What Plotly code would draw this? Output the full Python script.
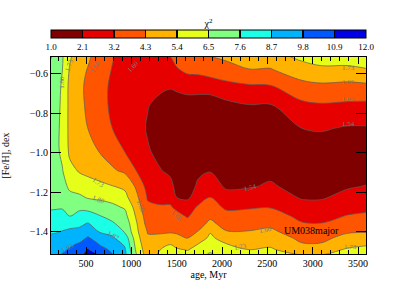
import numpy as np
import plotly.graph_objects as go

# ---------------- data ----------------
ages = [100, 170, 240, 320, 430, 520, 650, 790, 930, 1060, 1180, 1320,
        1430, 1500, 1620, 1740, 1870, 2050, 2300, 2530, 2880, 3100, 3380, 3600]
feh = [-1.52, -1.49, -1.46, -1.43, -1.40, -1.36, -1.32, -1.275, -1.225,
       -1.17, -1.09, -0.99, -0.875, -0.76, -0.66, -0.58, -0.50]

# chi^2 values, one list per age column (from low [Fe/H] to high [Fe/H])
chi2_by_age = [
    [9.5, 9.3, 9.1, 8.85, 8.6, 8.2, 7.8, 7.5, 7.2, 7.0, 6.9, 6.8, 6.8, 6.9, 7.0, 7.3, 7.9],
    [9.7, 9.5, 9.2, 8.9, 8.65, 8.3, 7.9, 7.5, 7.2, 7.0, 6.8, 6.7, 6.7, 6.75, 6.8, 7.0, 7.2],
    [9.9, 9.65, 9.35, 9.05, 8.75, 8.4, 7.95, 7.5, 7.1, 6.9, 6.55, 6.3, 6.3, 6.35, 6.4, 6.5, 6.6],
    [10.1, 9.9, 9.6, 9.3, 8.9, 8.4, 7.6, 7.2, 6.8, 6.3, 5.7, 5.2, 5.1, 5.1, 5.1, 5.3, 5.6],
    [10.7, 10.4, 9.9, 9.4, 9.0, 8.5, 7.9, 7.4, 6.7, 6.0, 5.3, 4.9, 4.7, 4.6, 4.5, 4.6, 4.8],
    [11.3, 11.0, 10.6, 9.9, 9.4, 8.8, 8.0, 7.3, 6.4, 5.9, 5.1, 4.6, 4.3, 4.1, 4.1, 4.25, 4.5],
    [11.0, 10.2, 9.7, 9.3, 8.65, 8.2, 7.65, 7.0, 6.3, 5.6, 5.0, 4.25, 3.8, 3.6, 3.6, 3.7, 3.9],
    [9.9, 9.6, 9.2, 8.8, 8.5, 7.75, 7.3, 6.7, 6.2, 5.45, 4.45, 3.8, 3.2, 3.0, 3.0, 3.15, 3.3],
    [9.0, 8.8, 8.55, 8.2, 7.5, 7.2, 6.8, 6.4, 5.7, 5.2, 4.1, 3.15, 2.85, 2.7, 2.7, 2.75, 2.8],
    [6.5, 6.2, 6.0, 5.8, 5.6, 5.45, 5.2, 4.9, 4.5, 4.1, 3.15, 2.75, 2.5, 2.4, 2.4, 2.45, 2.5],
    [4.9, 4.7, 4.55, 4.4, 4.25, 3.9, 3.7, 3.4, 3.1, 2.8, 2.5, 2.2, 2.0, 2.15, 2.3, 2.4, 2.5],
    [5.6, 5.4, 5.0, 4.5, 4.2, 3.9, 3.6, 3.3, 2.9, 2.5, 2.15, 1.8, 1.6, 1.8, 2.3, 2.6, 2.9],
    [6.0, 5.7, 5.35, 4.8, 4.2, 3.9, 3.6, 3.3, 2.9, 2.4, 1.9, 1.5, 1.4, 1.6, 2.2, 2.6, 3.3],
    [5.9, 5.5, 5.1, 4.5, 4.2, 3.9, 3.5, 3.0, 2.1, 1.8, 1.4, 1.2, 1.2, 1.4, 2.4, 3.1, 3.6],
    [5.7, 5.35, 5.0, 4.25, 4.0, 3.6, 3.1, 2.7, 1.9, 1.6, 1.3, 1.1, 1.1, 1.5, 2.6, 3.4, 4.0],
    [6.0, 5.7, 5.4, 5.0, 4.35, 4.0, 3.7, 3.35, 2.7, 2.3, 1.9, 1.4, 1.2, 1.6, 2.5, 3.5, 4.35],
    [6.8, 6.2, 5.9, 5.55, 5.35, 4.5, 4.15, 3.7, 3.2, 2.6, 2.05, 1.6, 1.3, 1.5, 2.6, 3.7, 4.4],
    [5.8, 5.6, 5.4, 5.0, 4.35, 4.0, 3.6, 3.0, 2.5, 1.95, 1.6, 1.3, 1.2, 1.8, 2.9, 3.9, 4.6],
    [5.6, 5.4, 5.0, 4.7, 4.35, 4.0, 3.6, 3.1, 2.7, 2.0, 1.6, 1.3, 1.3, 2.05, 3.1, 4.25, 5.0],
    [5.8, 5.5, 5.25, 4.9, 4.5, 4.1, 3.75, 3.15, 2.7, 2.25, 1.8, 1.4, 1.4, 2.0, 3.15, 4.2, 5.1],
    [5.45, 4.95, 4.35, 4.05, 3.8, 3.3, 2.9, 2.5, 2.0, 1.7, 1.4, 1.4, 2.1, 2.95, 3.95, 4.95, 5.75],
    [5.45, 5.0, 4.35, 4.05, 3.75, 3.25, 2.85, 2.45, 2.0, 1.7, 1.4, 1.5, 2.2, 3.08, 4.1, 5.25, 5.8],
    [5.8, 5.5, 5.1, 4.6, 4.2, 3.8, 3.25, 2.8, 2.4, 2.0, 1.6, 1.4, 2.0, 3.0, 4.0, 5.2, 5.9],
    [5.9, 5.6, 5.3, 4.75, 4.25, 3.85, 3.35, 3.0, 2.55, 2.15, 1.7, 1.45, 2.0, 2.94, 4.1, 5.35, 5.9],
]

levels = [1.0, 2.1, 3.2, 4.3, 5.4, 6.5, 7.6, 8.7, 9.8, 10.9, 12.0]
level_labels = ["1.0", "2.1", "3.2", "4.3", "5.4", "6.5", "7.6", "8.7", "9.8", "10.9", "12.0"]
band_colors = ["#800000", "#e60000", "#ff5500", "#ffb300", "#e6ff1a",
               "#80ff80", "#1affe6", "#00b3ff", "#0059ff", "#0000e6"]

x_ticks = [500, 1000, 1500, 2000, 2500, 3000, 3500]
y_ticks = [-1.4, -1.2, -1.0, -0.8, -0.6]

# small contour labels (text, age, feh, angle)
contour_texts = [
    ("1.73", 3400, -0.572, 0), ("1.66", 3400, -0.642, 0),
    ("1.60", 3400, -0.728, 0), ("1.54", 3400, -0.855, 0),
    ("1.73", 3420, -1.478, 0), ("1.66", 2480, -1.39, -10),
    ("1.73", 2200, -1.478, -10), ("1.54", 2310, -1.18, -15),
    ("1.60", 1500, -1.32, 40), ("1.66", 1100, -1.27, 70),
    ("1.73", 320, -0.555, -70), ("1.80", 235, -0.64, -90),
    ("1.66", 600, -0.565, -60), ("1.60", 1020, -0.565, -45),
    ("1.73", 640, -1.15, 35), ("1.80", 640, -1.24, 20),
    ("1.87", 800, -1.42, 30), ("1.93", 300, -1.48, -30),
]

FONT = "Liberation Serif, Times New Roman, serif"

# plot-area geometry (pixels)
W, H = 407, 291
M_L, M_R, M_T, M_B = 51, 41, 57, 37
PLOT_H = H - M_T - M_B
CB_BOX_BOTTOM = 49   # page pixel row of the bottom of the colour-bar labels

z = np.array(chi2_by_age).T
step = levels[1] - levels[0]
n_bands = len(band_colors)
lo, hi = levels[0], levels[-1]

# contour fill colour map: band j coloured at j/(n_bands-1)
contour_scale = [[i / (n_bands - 1), c] for i, c in enumerate(band_colors)]

# stepped colour scale for the stand-alone colour bar, with thin black separators
sep = 0.018
bar_scale = []
for i, c in enumerate(band_colors):
    a = (levels[i] - lo) / (hi - lo)
    b = (levels[i + 1] - lo) / (hi - lo)
    d = sep / (hi - lo)
    if i > 0:
        bar_scale.append([a, "#000000"])
        bar_scale.append([a + d, "#000000"])
        bar_scale.append([a + d, c])
    else:
        bar_scale.append([a, c])
    if i < n_bands - 1:
        bar_scale.append([b - d, c])
        bar_scale.append([b - d, "#000000"])
    else:
        bar_scale.append([b, c])
bar_scale = [[min(max(p, 0.0), 1.0), c] for p, c in bar_scale]

fig = go.Figure()
fig.add_trace(go.Contour(
    x=ages, y=feh, z=z,
    contours=dict(start=levels[1], end=levels[-2], size=step, coloring="fill"),
    colorscale=contour_scale,
    line=dict(color="#5a5a5a", width=0.7),
    showscale=False,
    hoverinfo="skip",
))

# colour bar carrier
fig.add_trace(go.Scatter(
    x=[None], y=[None], mode="markers", hoverinfo="skip",
    marker=dict(
        color=[lo], cmin=lo, cmax=hi, colorscale=bar_scale, showscale=True,
        colorbar=dict(
            orientation="h", x=0.5, xanchor="center", len=1.0, lenmode="fraction",
            y=(H - M_B - CB_BOX_BOTTOM) / PLOT_H, yanchor="bottom", ypad=0, xpad=0,
            thickness=8, outlinecolor="black", outlinewidth=1,
            tickvals=levels, ticktext=level_labels, ticks="",
            tickfont=dict(family=FONT, size=9, color="black"),
            title=dict(text="χ<sup>2</sup>", side="top",
                       font=dict(family=FONT, size=10, color="black")),
        ),
    ),
))

for txt, ax_, ay_, ang in contour_texts:
    fig.add_annotation(x=ax_, y=ay_, text=txt, showarrow=False, textangle=ang,
                       font=dict(family=FONT, size=7, color="#7a7a7a"))

fig.add_annotation(x=2983, y=-1.392, text="UM038major", showarrow=False,
                   font=dict(family=FONT, size=10, color="black"))

fig.update_layout(
    width=W, height=H,
    margin=dict(l=M_L, r=M_R, t=M_T, b=M_B, autoexpand=False),
    paper_bgcolor="white", plot_bgcolor="white",
    font=dict(family=FONT, size=10, color="black"),
    showlegend=False,
    xaxis=dict(
        range=[114, 3588], tickvals=x_ticks, ticks="inside", ticklen=7,
        tickcolor="black", showline=True, linecolor="black", linewidth=1,
        mirror="allticks", showgrid=False, zeroline=False, automargin=False,
        minor=dict(dtick=100, tick0=0, ticks="inside", ticklen=4, tickcolor="black"),
        title=dict(text="age, Myr", font=dict(family=FONT, size=10), standoff=3),
        tickfont=dict(family=FONT, size=10),
    ),
    yaxis=dict(
        range=[-1.512, -0.514], tickvals=y_ticks, tickformat=".1f",
        ticks="inside", ticklen=10, tickcolor="black", showline=True,
        linecolor="black", linewidth=1, mirror="allticks", showgrid=False,
        zeroline=False, automargin=False,
        title=dict(text="[Fe/H], dex", font=dict(family=FONT, size=10), standoff=6),
        tickfont=dict(family=FONT, size=10),
    ),
)

fig.write_html("out.html",
               config={"displayModeBar": False},
               post_script="document.body.style.margin='0px';document.body.style.padding='0px';")
